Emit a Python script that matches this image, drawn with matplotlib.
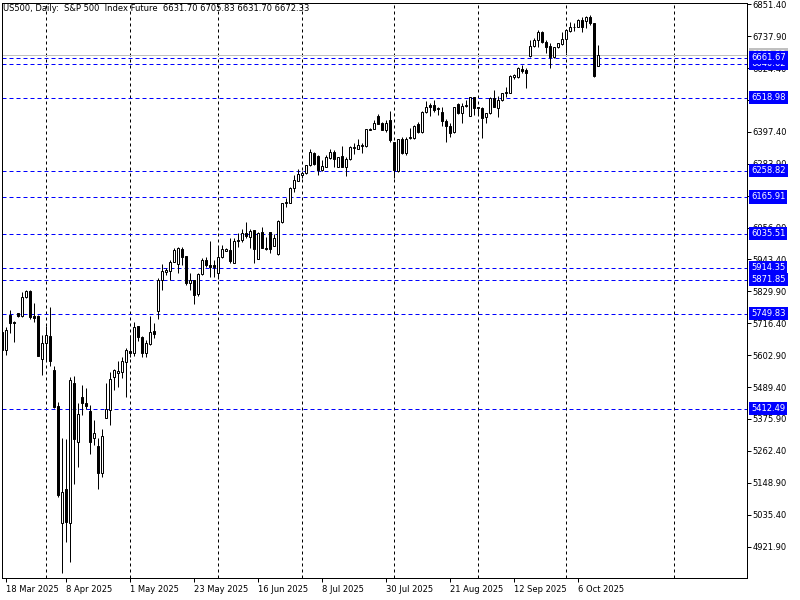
import numpy as np
import matplotlib.pyplot as plt

plt.rcParams['font.family'] = ['DejaVu Sans']

title = "US500, Daily:  S&P 500  Index Future  6631.70 6705.83 6631.70 6672.33"

# daily OHLC, 17 Mar 2025 .. 13 Oct 2025 (first bar is cut by the left edge)
opens = [5686.6, 5621.3, 5745.9, 5722.2, 5751.8, 5742.3, 5808.7, 5831.3, 5742.3, 5742.3,
         5588.2, 5645.1, 5671.2, 5550.2, 5422.1, 5004.6, 5126.8, 5004.6, 5502.8, 5295.2,
         5455.3, 5431.6, 5405.5, 5307.1, 5279.8, 5182.5, 5378.2, 5407.9, 5526.5, 5540.7,
         5541.9, 5577.5, 5617.8, 5609.5, 5706.8, 5668.8, 5609.5, 5641.5, 5689.0, 5761.3,
         5870.4, 5900.0, 5902.4, 5935.6, 5926.2, 5980.7, 5955.8, 5858.6, 5870.4, 5819.4,
         5890.6, 5941.6, 5923.7, 5923.7, 5896.4, 5951.0, 5974.7, 5977.1, 5932.0, 6010.3,
         6011.5, 6038.8, 6022.2, 6047.1, 5945.1, 6040.0, 5983.0, 6040.0, 5992.5, 5964.0,
         6077.9, 6145.5, 6145.5, 6198.8, 6223.8, 6243.9, 6249.9, 6278.4, 6323.4, 6311.5,
         6261.7, 6273.6, 6304.4, 6327.0, 6273.6, 6310.4, 6273.6, 6299.7, 6338.8, 6337.6,
         6348.3, 6348.3, 6405.2, 6408.8, 6453.9, 6427.8, 6404.1, 6439.6, 6360.2, 6259.4,
         6370.9, 6323.4, 6374.4, 6376.8, 6425.4, 6395.8, 6469.3, 6491.8, 6493.0, 6477.6,
         6469.3, 6437.3, 6419.5, 6395.8, 6495.4, 6463.4, 6489.5, 6455.0, 6520.3, 6484.7,
         6483.5, 6449.1, 6463.4, 6519.1, 6483.5, 6510.8, 6534.5, 6536.9, 6591.5, 6591.5,
         6619.9, 6617.5, 6667.4, 6702.9, 6724.3, 6753.9, 6718.4, 6702.9, 6665.0, 6698.2,
         6710.1, 6726.7, 6757.5, 6769.3, 6771.7, 6795.4, 6793.1, 6804.9, 6783.6, 6631.7]
highs = [5692.5, 5704.4, 5763.7, 5724.0, 5754.2, 5828.9, 5834.8, 5834.8, 5787.4, 5745.9,
         5674.7, 5706.8, 5775.5, 5564.4, 5437.5, 5307.1, 5304.7, 5524.1, 5528.9, 5431.6,
         5496.8, 5485.0, 5425.7, 5372.3, 5307.1, 5340.3, 5502.8, 5544.3, 5553.8, 5583.4,
         5595.3, 5627.3, 5674.7, 5722.2, 5708.0, 5671.2, 5656.9, 5743.5, 5718.6, 5876.3,
         5926.2, 5914.3, 5941.6, 5983.1, 5989.0, 5989.0, 5957.0, 5894.1, 5870.4, 5894.1,
         5947.5, 5953.4, 6009.1, 5941.5, 5989.0, 5994.9, 5983.0, 6018.6, 6018.6, 6036.4,
         6053.0, 6075.5, 6053.0, 6047.1, 6042.3, 6060.1, 6022.2, 6040.0, 6034.0, 6082.7,
         6145.5, 6160.9, 6200.0, 6243.9, 6265.3, 6258.2, 6280.7, 6336.5, 6327.0, 6313.9,
         6297.3, 6315.1, 6336.5, 6332.9, 6309.2, 6347.1, 6309.2, 6347.1, 6359.0, 6373.2,
         6359.0, 6408.8, 6412.3, 6439.6, 6461.0, 6431.3, 6439.6, 6470.5, 6362.5, 6370.8,
         6380.3, 6380.3, 6410.0, 6421.9, 6433.7, 6471.7, 6507.2, 6498.9, 6510.8, 6484.7,
         6487.1, 6442.0, 6427.8, 6487.1, 6498.9, 6501.3, 6510.8, 6522.7, 6522.7, 6487.1,
         6487.1, 6465.7, 6520.3, 6546.4, 6525.1, 6536.9, 6558.2, 6599.8, 6603.3, 6629.4,
         6635.3, 6623.5, 6724.3, 6730.2, 6759.9, 6757.5, 6724.3, 6712.4, 6700.6, 6714.8,
         6753.9, 6762.2, 6789.5, 6783.6, 6797.8, 6804.9, 6810.9, 6813.2, 6786.0, 6705.8]
lows = [5591.7, 5603.6, 5680.6, 5651.0, 5740.0, 5740.0, 5805.2, 5730.4, 5722.2, 5600.0,
        5532.4, 5585.8, 5564.4, 5413.8, 5099.5, 4826.7, 4937.1, 4868.3, 5143.4, 5203.9,
        5390.1, 5410.3, 5250.1, 5283.4, 5125.6, 5168.3, 5378.2, 5354.5, 5479.0, 5490.9,
        5520.6, 5453.0, 5597.6, 5600.0, 5654.6, 5595.3, 5595.3, 5639.2, 5662.9, 5731.7,
        5834.8, 5888.2, 5870.4, 5933.3, 5894.1, 5923.8, 5852.6, 5834.8, 5783.8, 5814.7,
        5888.2, 5917.8, 5882.2, 5882.2, 5872.7, 5947.4, 5972.3, 5932.0, 5929.7, 5989.0,
        6006.7, 6018.6, 5985.4, 5929.7, 5943.9, 5983.0, 5977.1, 5965.2, 5991.3, 5959.3,
        6074.4, 6131.3, 6143.1, 6184.6, 6221.4, 6234.5, 6247.5, 6276.0, 6280.7, 6245.1,
        6259.4, 6271.2, 6302.1, 6271.2, 6271.2, 6271.2, 6241.6, 6297.3, 6318.7, 6335.3,
        6323.4, 6344.8, 6404.1, 6406.4, 6424.2, 6404.1, 6398.1, 6362.5, 6232.1, 6255.8,
        6318.7, 6315.1, 6370.9, 6370.9, 6394.6, 6392.2, 6465.7, 6453.9, 6469.3, 6457.4,
        6418.3, 6362.6, 6380.3, 6392.2, 6461.0, 6427.8, 6484.7, 6453.9, 6457.4, 6457.4,
        6374.4, 6427.8, 6461.0, 6484.7, 6451.5, 6508.4, 6522.7, 6534.5, 6584.3, 6587.9,
        6608.1, 6554.7, 6665.0, 6700.6, 6700.6, 6714.8, 6679.2, 6625.8, 6659.1, 6694.6,
        6706.5, 6679.2, 6753.9, 6757.5, 6769.3, 6751.6, 6765.8, 6777.7, 6593.8, 6631.7]
closes = [5621.3, 5692.5, 5716.2, 5716.2, 5742.3, 5808.7, 5831.3, 5740.0, 5736.4, 5601.2,
          5645.1, 5674.7, 5583.4, 5417.4, 5105.5, 5117.3, 5008.2, 5514.6, 5303.5, 5392.5,
          5431.6, 5422.1, 5295.2, 5324.9, 5182.5, 5315.4, 5410.3, 5518.2, 5550.2, 5546.6,
          5583.4, 5621.4, 5609.5, 5704.4, 5668.8, 5611.9, 5645.1, 5684.2, 5677.1, 5870.4,
          5902.4, 5906.0, 5933.3, 5977.2, 5983.1, 5953.4, 5858.6, 5870.4, 5817.0, 5890.6,
          5941.6, 5923.8, 5917.8, 5915.4, 5951.0, 5979.5, 5979.5, 5939.1, 6009.1, 6012.7,
          6038.8, 6026.9, 6044.7, 5979.5, 6036.4, 5985.4, 5979.5, 5979.5, 6018.6, 6080.3,
          6143.1, 6147.9, 6196.5, 6226.2, 6246.3, 6251.1, 6278.4, 6324.6, 6283.1, 6261.7,
          6276.0, 6306.8, 6324.6, 6302.1, 6306.8, 6273.6, 6300.9, 6343.6, 6344.8, 6350.7,
          6351.9, 6406.4, 6408.8, 6430.1, 6426.6, 6404.1, 6430.1, 6368.4, 6261.7, 6370.8,
          6321.0, 6370.9, 6378.0, 6418.3, 6398.1, 6469.3, 6484.7, 6487.1, 6475.2, 6481.2,
          6437.3, 6418.3, 6392.2, 6484.7, 6463.4, 6489.5, 6491.8, 6520.3, 6483.5, 6481.2,
          6448.0, 6463.4, 6516.7, 6487.1, 6510.8, 6534.5, 6540.5, 6596.2, 6599.8, 6623.5,
          6614.0, 6608.1, 6702.9, 6724.3, 6753.9, 6718.4, 6700.6, 6665.0, 6698.2, 6712.4,
          6726.7, 6759.9, 6769.3, 6771.7, 6795.4, 6769.3, 6804.9, 6783.6, 6596.2, 6672.3]

date_pos = [0, 15, 31, 47, 63, 79, 95, 111, 127, 143]
date_labels = ["18 Mar 2025", "8 Apr 2025", "1 May 2025", "23 May 2025", "16 Jun 2025",
               "8 Jul 2025", "30 Jul 2025", "21 Aug 2025", "12 Sep 2025", "6 Oct 2025"]
month_starts = [10, 31, 53, 74, 97, 118, 140, 167]

price_ticks = [4921.90, 5035.40, 5148.90, 5262.40, 5375.90, 5489.40, 5602.90, 5716.40, 5829.90,
               5943.40, 6056.90, 6170.40, 6283.90, 6397.40, 6510.90, 6624.40, 6737.90, 6851.40]
levels = [5412.49, 5749.83, 5871.85, 5914.35, 6035.51, 6165.91, 6258.82, 6518.98, 6640.62, 6661.67]
bid = 6672.33

o = np.array(opens); h = np.array(highs); l = np.array(lows); c = np.array(closes)
x = np.arange(-1, len(o) - 1)
up = c >= o

px = 0.72  # one pixel in points

fig = plt.figure(figsize=(8, 6), dpi=100)
ax = fig.add_axes([0.0025, 0.03617, 0.93125, 0.95933])
ax.set_xlim(-1.05, 185.2)
ax.set_ylim(4809.1, 6857.0)

for m in month_starts:
    ax.axvline(m, color='black', lw=px, ls=(0, (3, 3)), zorder=1)
for lv in levels:
    ax.axhline(lv, color='#0000ff', lw=px, ls=(0, (4, 3)), zorder=1)
ax.axhline(bid, color='#c0c0c0', lw=px, zorder=1)

ax.vlines(x, l, h, color='black', lw=px, zorder=2)
ax.bar(x, c - o, bottom=o, width=0.5, color=np.where(up, 'white', 'black'),
       edgecolor='black', linewidth=px, zorder=3)

ax.text(0.002, 0.997, title, transform=ax.transAxes, ha='left', va='top', fontsize=6, zorder=6)

ax.yaxis.tick_right()
ax.set_yticks(price_ticks)
ax.set_yticklabels([f"{v:.2f}" for v in price_ticks])
ax.tick_params(axis='y', direction='out', length=2.8, width=px, pad=1, labelsize=6)
ax.set_xticks(date_pos)
ax.set_xticklabels(date_labels, ha='left')
ax.tick_params(axis='x', direction='out', length=3.2, width=px, pad=1.5, labelsize=6)

for sp in ax.spines.values():
    sp.set_linewidth(px)

ytr = ax.get_yaxis_transform()
ax.text(1.0054, bid, f"{bid:.2f}", transform=ytr, color='white', fontsize=6, va='center',
        ha='left', bbox=dict(boxstyle='square,pad=0.25', fc='#c0c0c0', ec='none'), zorder=7)
for k, lv in enumerate(levels):
    ax.text(1.0054, lv, f"{lv:.2f}", transform=ytr, color='white', fontsize=6, va='center',
            ha='left', bbox=dict(boxstyle='square,pad=0.25', fc='#0000ff', ec='none'), zorder=8 + k)

fig.savefig("out.png", dpi=100, facecolor='white')
